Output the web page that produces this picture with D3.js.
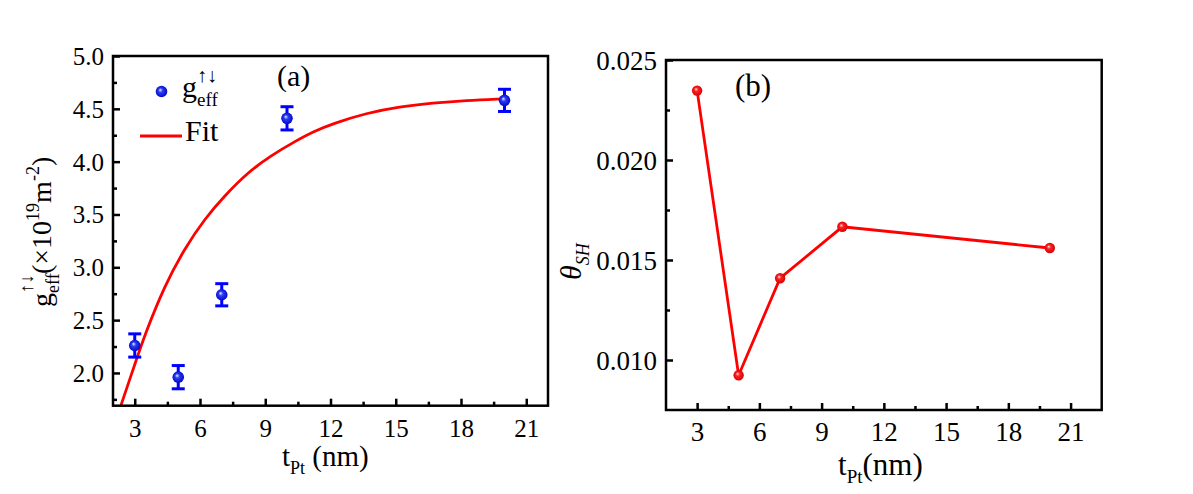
<!DOCTYPE html>
<html>
<head>
<meta charset="utf-8">
<script src="https://cdn.jsdelivr.net/npm/d3@7"></script>
<style>
  html, body { margin: 0; padding: 0; background: #fff; }
  svg text { font-family: "Liberation Serif", "Times New Roman", Times, serif !important; }
</style>
</head>
<body>
<svg id="chart" width="1193" height="494"></svg>
<script>
// ---------- data ----------
const thicknessA = [3, 5, 7, 10, 20];
const gEff = [2.26, 1.96, 2.74, 4.41, 4.58];
const gEffErr = [0.11, 0.11, 0.105, 0.11, 0.105];

const fitT = [2.36, 3, 3.46, 4.38, 5.3, 6.22, 7.14, 8.21, 9.28, 10.35, 11.27, 12.11, 13.65, 15.18, 16.7, 18.24, 19.91];
const fitG = [1.69, 2.08, 2.36, 2.83, 3.18, 3.46, 3.68, 3.9, 4.06, 4.19, 4.29, 4.36, 4.46, 4.52, 4.555, 4.58, 4.595];

const thicknessB = [3, 5, 7, 10, 20];
const thetaSH = [0.02347, 0.00924, 0.01409, 0.01666, 0.0156];

const xTicks = [3, 6, 9, 12, 15, 18, 21];
const xMinorTicks = [4.5, 7.5, 10.5, 13.5, 16.5, 19.5];
const yTicksA = [2.0, 2.5, 3.0, 3.5, 4.0, 4.5, 5.0];
const yMinorTicksA = [1.75, 2.25, 2.75, 3.25, 3.75, 4.25, 4.75];
const yTicksB = [0.010, 0.015, 0.020, 0.025];
const yMinorTicksB = [0.0125, 0.0175, 0.0225];

// ---------- setup ----------
const svg = d3.select("#chart");
const defs = svg.append("defs");

function sphereGrad(id, light, mid, dark) {
  const g = defs.append("radialGradient").attr("id", id)
    .attr("cx", "50%").attr("cy", "50%").attr("r", "55%")
    .attr("fx", "38%").attr("fy", "35%");
  g.append("stop").attr("offset", "0%").attr("stop-color", light);
  g.append("stop").attr("offset", "35%").attr("stop-color", mid);
  g.append("stop").attr("offset", "100%").attr("stop-color", dark);
}
sphereGrad("blueSphere", "#e8ecff", "#2a3cf0", "#0000c8");
sphereGrad("redSphere", "#ffe0e0", "#ff2020", "#d00000");

function frame(g, x, y, w, h) {
  g.append("rect").attr("x", x).attr("y", y).attr("width", w).attr("height", h)
    .attr("fill", "none").attr("stroke", "#000").attr("stroke-width", 2.5);
}

function drawAxes(g, xs, ys, yTicks, yMinor, yFmt, fontX, fontY) {
  const [x0] = xs.range();
  const [y0] = ys.range();
  const xa = g.append("g").attr("transform", `translate(0,${y0})`)
    .call(d3.axisBottom(xs).tickValues(xTicks).tickSize(-7).tickPadding(0).tickFormat(d3.format("d")));
  xa.select(".domain").remove();
  xa.selectAll("line").attr("stroke-width", 2.5);
  xa.selectAll("text").attr("font-size", fontX).attr("fill", "#000").attr("dy", null).attr("y", 31);
  const xm = g.append("g").attr("transform", `translate(0,${y0})`)
    .call(d3.axisBottom(xs).tickValues(xMinorTicks).tickSize(-4).tickFormat(""));
  xm.select(".domain").remove();
  xm.selectAll("line").attr("stroke-width", 2.5);

  const ya = g.append("g").attr("transform", `translate(${x0},0)`)
    .call(d3.axisLeft(ys).tickValues(yTicks).tickSize(-7).tickPadding(9).tickFormat(yFmt));
  ya.select(".domain").remove();
  ya.selectAll("line").attr("stroke-width", 2.5);
  ya.selectAll("text").attr("font-size", fontY).attr("fill", "#000").attr("dy", "0.34em");
  const ym = g.append("g").attr("transform", `translate(${x0},0)`)
    .call(d3.axisLeft(ys).tickValues(yMinor).tickSize(-4).tickFormat(""));
  ym.select(".domain").remove();
  ym.selectAll("line").attr("stroke-width", 2.5);
}

// ---------- panel (a) ----------
const xA = d3.scaleLinear().domain([2, 22]).range([113, 548]);
const yA = d3.scaleLinear().domain([1.69, 5.0]).range([405.7, 56]);
const gA = svg.append("g");

defs.append("clipPath").attr("id", "clipA").append("rect")
  .attr("x", 113).attr("y", 56).attr("width", 435).attr("height", 349.7);

gA.append("path")
  .datum(fitT.map((t, i) => [t, fitG[i]]))
  .attr("clip-path", "url(#clipA)")
  .attr("fill", "none").attr("stroke", "#ff0000").attr("stroke-width", 2.8)
  .attr("d", d3.line().x(d => xA(d[0])).y(d => yA(d[1])).curve(d3.curveBasis));

const eb = gA.append("g").attr("stroke", "#0000ff").attr("stroke-width", 3);
thicknessA.forEach((t, i) => {
  const cx = xA(t), yt = yA(gEff[i] + gEffErr[i]), yb = yA(gEff[i] - gEffErr[i]);
  eb.append("line").attr("x1", cx).attr("x2", cx).attr("y1", yt).attr("y2", yb);
  eb.append("line").attr("x1", cx - 6.5).attr("x2", cx + 6.5).attr("y1", yt).attr("y2", yt);
  eb.append("line").attr("x1", cx - 6.5).attr("x2", cx + 6.5).attr("y1", yb).attr("y2", yb);
});
gA.selectAll("circle.pt").data(thicknessA).enter().append("circle")
  .attr("cx", d => xA(d)).attr("cy", (d, i) => yA(gEff[i])).attr("r", 5.8)
  .attr("fill", "url(#blueSphere)");

frame(gA, 113, 56, 435, 349.7);
drawAxes(gA, xA, yA, yTicksA, yMinorTicksA, d3.format(".1f"), 25, 25);

// legend
gA.append("circle").attr("cx", 161.5).attr("cy", 91.5).attr("r", 5.8).attr("fill", "url(#blueSphere)");
const lg = gA.append("text").attr("x", 182).attr("y", 97).attr("font-size", 30);
lg.append("tspan").text("g");
lg.append("tspan").attr("font-size", 19).attr("dy", 9).text("eff");
lg.append("tspan").attr("font-size", 20).attr("x", 197).attr("dy", -24).text("↑↓");
gA.append("line").attr("x1", 140).attr("x2", 182).attr("y1", 136).attr("y2", 136)
  .attr("stroke", "#ff0000").attr("stroke-width", 3);
gA.append("text").attr("x", 185).attr("y", 141).attr("font-size", 30).text("Fit");
gA.append("text").attr("x", 277).attr("y", 86).attr("font-size", 30).text("(a)");

// x title
const xtA = gA.append("text").attr("x", 282).attr("y", 466).attr("font-size", 29);
xtA.append("tspan").text("t");
xtA.append("tspan").attr("font-size", 18).attr("dy", 8).text("Pt");
xtA.append("tspan").attr("dy", -8).text(" (nm)");

// y title
const ytA = gA.append("text").attr("transform", "translate(51,307) rotate(-90)").attr("font-size", 28);
ytA.append("tspan").text("g");
ytA.append("tspan").attr("font-size", 18).attr("dy", 8).text("eff");
ytA.append("tspan").attr("font-size", 19).attr("x", 14).attr("dy", -26).text("↑↓");
ytA.append("tspan").attr("x", 33).attr("dy", 18).text("(×10");
ytA.append("tspan").attr("font-size", 18).attr("dy", -12).text("19");
ytA.append("tspan").attr("dy", 12).text("m");
ytA.append("tspan").attr("font-size", 18).attr("dy", -12).text("-2");
ytA.append("tspan").attr("dy", 12).text(")");

// ---------- panel (b) ----------
const xB = d3.scaleLinear().domain([1.5, 22.5]).range([666, 1101.7]);
const yB = d3.scaleLinear().domain([0.0075, 0.025]).range([410, 60]);
const gB = svg.append("g");

gB.append("path")
  .datum(thicknessB.map((t, i) => [t, thetaSH[i]]))
  .attr("fill", "none").attr("stroke", "#ff0000").attr("stroke-width", 2.8)
  .attr("d", d3.line().x(d => xB(d[0])).y(d => yB(d[1])));
gB.selectAll("circle.pt").data(thicknessB).enter().append("circle")
  .attr("cx", d => xB(d)).attr("cy", (d, i) => yB(thetaSH[i])).attr("r", 5.2)
  .attr("fill", "url(#redSphere)");

frame(gB, 666, 60, 435.7, 350);
drawAxes(gB, xB, yB, yTicksB, yMinorTicksB, d3.format(".3f"), 27, 27);

gB.append("text").attr("x", 735).attr("y", 96).attr("font-size", 31).text("(b)");

const xtB = gB.append("text").attr("x", 838).attr("y", 475).attr("font-size", 31);
xtB.append("tspan").text("t");
xtB.append("tspan").attr("font-size", 19).attr("dy", 8).text("Pt");
xtB.append("tspan").attr("dy", -8).text("(nm)");

const ytB = gB.append("text").attr("transform", "translate(581,280) rotate(-90)")
  .attr("font-size", 30).attr("font-style", "italic");
ytB.append("tspan").text("θ");
ytB.append("tspan").attr("font-size", 18).attr("dy", 8).text("SH");
</script>
</body>
</html>
